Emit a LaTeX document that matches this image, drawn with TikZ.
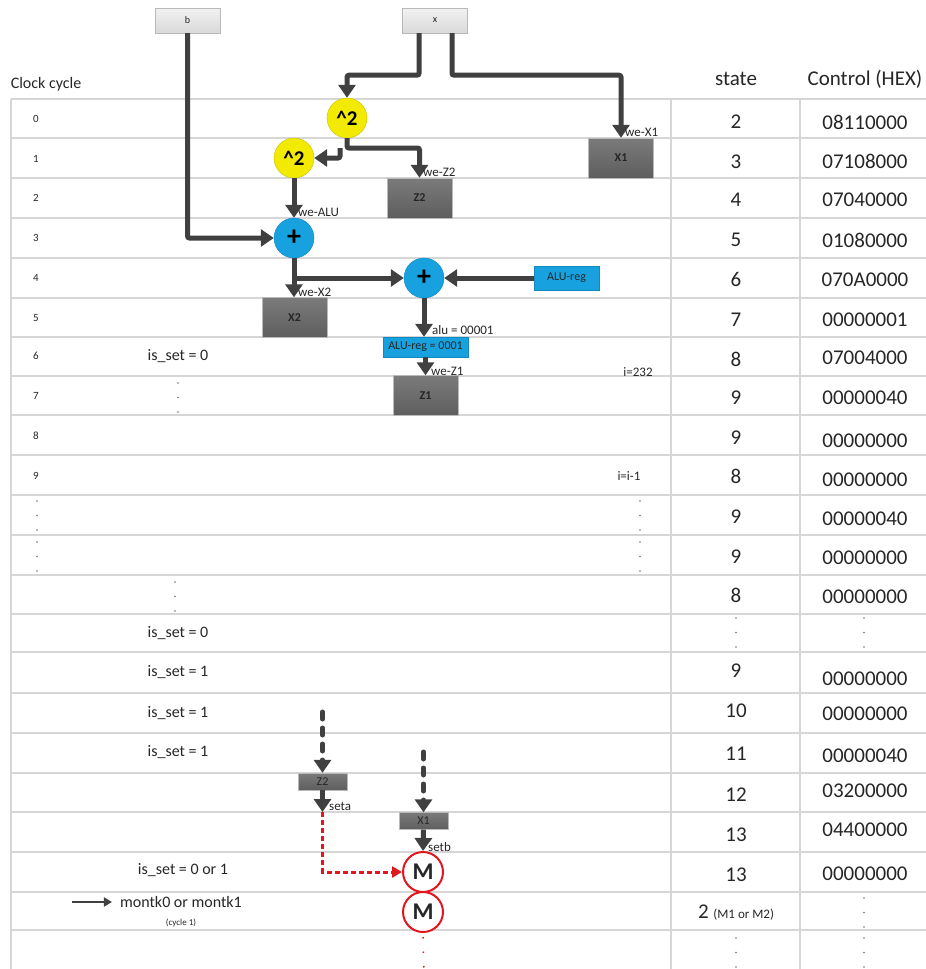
\documentclass[tikz,border=0pt]{standalone}
\usepackage{fontspec}
\setmainfont{Carlito}
\usetikzlibrary{arrows.meta}
\definecolor{arrowgray}{HTML}{404040}
\definecolor{gridc}{HTML}{D6D6D6}
\definecolor{yellowc}{HTML}{F2EA00}
\definecolor{yellowd}{HTML}{C9C200}
\definecolor{bluec}{HTML}{17A2DF}
\definecolor{blued}{HTML}{1188C0}
\definecolor{redc}{HTML}{E3161E}
\definecolor{darkbox}{HTML}{6C6C6C}
\definecolor{darkboxb}{HTML}{5E5E5E}
\definecolor{txt}{HTML}{262626}
\newcommand{\myfs}[1]{\fontsize{#1}{#1}\selectfont}
\newcommand{\threedots}[2]{\foreach \k in {0,1,2} \fill[black!55] (#1,{#2+\k*14.5}) circle (0.9pt);}
\begin{document}
\begin{tikzpicture}[x=1pt,y=-1pt,
  topbox/.style={draw=gray!55, top color=gray!10, bottom color=gray!30, minimum width=65pt, minimum height=25pt, inner sep=0pt, font=\myfs{10}, text=txt},
  regbox/.style={draw=gray!55, top color=darkbox!90!white, bottom color=darkboxb, minimum width=65pt, minimum height=40pt, inner sep=0pt, font=\bfseries\myfs{12}, text=black!85},
  smallbox/.style={regbox, minimum width=49pt, minimum height=17pt, font=\myfs{12}},
  sqc/.style={circle, fill=yellowc, draw=yellowd, minimum size=40pt, inner sep=0pt, font=\bfseries\myfs{21}},
  addc/.style={circle, fill=bluec, draw=blued, minimum size=40pt, inner sep=0pt, font=\bfseries\myfs{28}},
  bluebox/.style={fill=bluec, draw=blued, inner sep=0pt, minimum height=24pt, minimum width=65pt, font=\myfs{12}, text=txt},
  mc/.style={circle, draw=redc, line width=2pt, fill=white, minimum size=40pt, inner sep=0pt, font=\bfseries\myfs{24}, text=txt},
  arr/.style={draw=arrowgray, line width=5pt, rounded corners=2pt, -{Triangle[length=13pt,width=17pt]}},
  darr/.style={arr, rounded corners=0pt, line cap=round, dash pattern=on 7pt off 9pt},
  rarr/.style={draw=redc, line width=3pt, dash pattern=on 5pt off 3pt, -{Triangle[length=10pt,width=11pt]}},
  lbl/.style={font=\myfs{13}, text=txt, inner sep=0pt, anchor=west},
  cyc/.style={font=\myfs{11}, text=txt, inner sep=0pt},
  big/.style={font=\myfs{21}, text=txt, inner sep=0pt},
  mid/.style={font=\myfs{16}, text=txt, inner sep=0pt},
  gridline/.style={draw=gridc, line width=1.5pt}
]
\useasboundingbox (0,0) rectangle (926,969);
% grid
\foreach \yy in {99,138,178,218,258,298,337,376,415,455,495,535,575,614,652,693,733,773,812,852,892,930}
  \draw[gridline] (11,\yy) -- (926,\yy);
\foreach \xx in {11,671,800}
  \draw[gridline] (\xx,99) -- (\xx,969);
% headers
\node[mid] (hcc) at (46,84) {Clock cycle};
\node[big] (hst) at (736,79) {state};
\node[big] (hct) at (865,79) {Control (HEX)};
% cycle numbers
\foreach \n/\yy in {0/119,1/159,2/198,3/238,4/278,5/318,6/356,7/396,8/436,9/476}
  \node[cyc] (c\n) at (36,\yy) {\n};
% state column
\foreach \s/\yy [count=\i] in {2/122,3/161.5,4/200,5/240,6/279.5,7/319.5,8/359.5,9/397.5,9/437.5,8/476.5,9/516.5,9/556.5,8/595.5,9/671,10/710.5,11/753.5,12/794.5,13/834.5,13/874.5}
  \node[big] (s\i) at (736,\yy) {\s};
\node[inner sep=0pt, text=txt] (s20) at (736,912.5) {\myfs{21}2 \myfs{13}(M1 or M2)};
% control column
\foreach \s/\yy [count=\i] in {08110000/122.5,07108000/161,07040000/199.5,01080000/240,070A0000/280,00000001/320,07004000/358,00000040/397.5,00000000/440.5,00000000/480,00000040/518.5,00000000/557.5,00000000/596.5,00000000/678.5,00000000/713.5,00000040/755.5,03200000/790.5,04400000/830,00000000/873.5}
  \node[big] (k\i) at (865,\yy) {\s};
% dots
\threedots{178}{383}
\threedots{37}{501}
\threedots{640}{501}
\threedots{37}{542}
\threedots{640}{542}
\threedots{175}{582}
\threedots{736}{618}
\threedots{864}{618}
\threedots{864}{898}
\threedots{736}{938}
\threedots{864}{938}
% side texts
\node[mid] (is6) at (178,356) {is\_set = 0};
\node[mid] (is13) at (178,633) {is\_set = 0};
\node[mid] (is14) at (178,672) {is\_set = 1};
\node[mid] (is15) at (178,713) {is\_set = 1};
\node[mid] (is16) at (178,752) {is\_set = 1};
\node[mid] (is19) at (183,870) {is\_set = 0 or 1};
\node[mid] (montk) at (181,902) {montk0 or montk1};
\node[font=\myfs{9}, text=txt, inner sep=0pt] (cyc1) at (181,923) {(cycle 1)};
\node[lbl, anchor=center] (i232) at (638,372) {i=232};
\node[lbl, anchor=center] (iim) at (629,476) {i=i-1};
% datapath nodes
\node[topbox] (b) at (187.5,20.5) {b};
\node[topbox] (x) at (435,20.5) {x};
\node[sqc] (sq1) at (347,118) {\textasciicircum 2};
\node[sqc] (sq2) at (294,158) {\textasciicircum 2};
\node[regbox] (X1) at (621,158) {X1};
\node[regbox] (Z2) at (419.5,198) {Z2};
\node[addc] (p1) at (294,238) {+};
\node[addc] (p2) at (424,278) {+};
\node[bluebox] (aluA) at (566.5,278) {ALU-reg};
\node[regbox] (X2) at (294.5,317.5) {X2};
\node[bluebox, minimum width=85pt, minimum height=20pt] (aluB) at (425.5,347) {ALU-reg = 0001};
\node[regbox] (Z1) at (425.5,395.5) {Z1};
% connectors
\coordinate (j1) at (347,148);
\draw[arr] (b.south) |- (p1.west);
\draw[arr] ([xshift=-16pt]x.south) -- ++(0,42) -| (sq1.north);
\draw[arr] ([xshift=17pt]x.south) -- ++(0,42) -| (X1.north);
\draw[arr] (sq1.south) -- (j1) -| (Z2.north);
\draw[arr] ([xshift=-7pt]j1) |- (sq2.east);
\draw[arr] (sq2.south) -- (p1.north);
\draw[arr] (p1.south) -- (p1.south |- X2.north);
\draw[arr] (p1.south |- p2.west) -- (p2.west);
\draw[arr] (aluA.west) -- (p2.east);
\draw[arr] (p2.south) -- (p2.south |- aluB.north);
\draw[arr] (aluB.south -| Z1.north) -- (Z1.north);
% labels
\node[lbl] (lx1) at (625,132) {we-X1};
\node[lbl] (lz2) at (423,172) {we-Z2};
\node[lbl] (lalu) at (298,212) {we-ALU};
\node[lbl] (lx2) at (298,292) {we-X2};
\node[lbl] (lalu2) at (432,330) {alu = 00001};
\node[lbl] (lz1) at (431,371) {we-Z1};
% lower part
\node[smallbox] (Z2s) at (322.5,781.5) {Z2};
\node[smallbox] (X1s) at (423.5,821) {X1};
\node[mc] (M1) at (423,872) {M};
\node[mc] (M2) at (423,912) {M};
\coordinate (d1) at (322.5,712);
\coordinate (d2) at (423.5,752);
\coordinate (seta) at (322.5,812);
\coordinate (mend) at (424,969);
\draw[darr] (d1) -- (Z2s.north);
\draw[darr] (d2) -- (X1s.north);
\draw[arr] (Z2s.south) -- (seta);
\draw[arr] (X1s.south) -- (M1.north);
\draw[rarr] (seta) |- (M1.west);
\draw[draw=redc, line width=1.5pt, dash pattern=on 1.5pt off 13pt] ([yshift=-4pt]M2.south) -- (mend);
\node[lbl] (lseta) at (329,806) {seta};
\node[lbl] (lsetb) at (428,847) {setb};
\coordinate (ma) at (72,902);
\draw[draw=arrowgray, line width=2pt, -{Triangle[length=8pt,width=9pt]}] (ma) -- ([xshift=-8pt]montk.west);
\end{tikzpicture}
\end{document}
